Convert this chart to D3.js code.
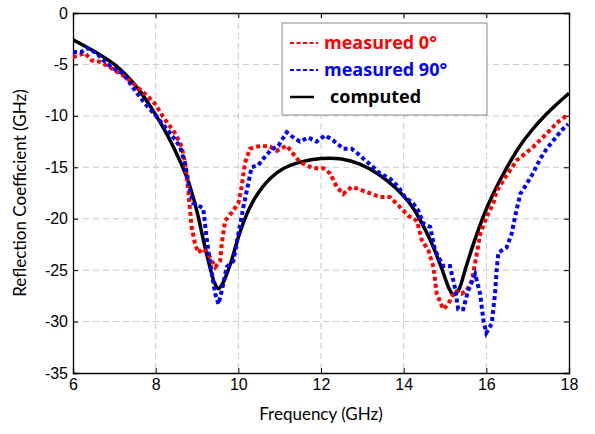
<!DOCTYPE html>
<html>
<head>
<meta charset="utf-8">
<script src="https://cdn.jsdelivr.net/npm/d3@7"></script>
<style>
  body { margin: 0; background: #fff; }
  svg { display: block; }
</style>
</head>
<body>
<div id="chart"></div>
<script>
// frequency (GHz) / reflection coefficient
var freqComputed = [6, 6.5, 7, 7.3, 7.6, 8, 8.3, 8.6, 8.8, 9.0, 9.15, 9.3, 9.42, 9.52, 9.62, 9.8, 10.0, 10.2, 10.4, 10.77, 11.1, 11.5, 12.0, 12.5, 12.94, 13.4, 13.8, 14.2, 14.6, 14.9, 15.1, 15.2, 15.32, 15.5, 15.7, 15.85, 16.05, 16.25, 16.5, 16.8, 17.1, 17.46, 17.75, 18]
var sComputed = [-2.6, -3.7, -5.0, -6.1, -7.5, -9.9, -12.0, -14.5, -16.5, -19.3, -22.0, -24.5, -26.2, -26.8, -26.3, -24.5, -21.8, -19.6, -18.0, -16.1, -15.1, -14.5, -14.15, -14.2, -14.7, -15.7, -17.0, -18.8, -21.7, -24.6, -26.8, -27.4, -27.0, -24.8, -22.3, -20.6, -18.6, -16.9, -15.0, -13.0, -11.4, -9.8, -8.7, -7.8]

var freq0 = [6.0, 6.29, 6.45, 6.65, 6.94, 7.26, 7.5, 7.78, 7.98, 8.18, 8.47, 8.63, 8.71, 8.79, 8.87, 8.95, 9.03, 9.15, 9.31, 9.44, 9.56, 9.6, 9.68, 9.84, 10.0, 10.08, 10.16, 10.28, 10.44, 10.56, 10.77, 10.93, 11.17, 11.33, 11.49, 11.81, 12.06, 12.22, 12.38, 12.54, 12.74, 12.9, 13.43, 13.67, 13.87, 14.11, 14.32, 14.44, 14.6, 14.72, 14.8, 14.96, 15.08, 15.24, 15.4, 15.52, 15.65, 15.77, 15.85, 16.0, 16.17, 16.25, 16.49, 16.74, 16.9, 17.14, 17.34, 17.54, 17.7, 17.9, 18]
var s0 = [-4.3, -3.9, -4.6, -4.75, -5.4, -6.2, -7.0, -8.0, -8.8, -10.1, -11.7, -13.0, -14.6, -17.3, -20.8, -22.4, -23.3, -22.9, -23.7, -24.7, -24.1, -22.4, -20.2, -19.4, -18.5, -16.9, -14.6, -13.2, -13.0, -12.9, -13.0, -13.4, -12.9, -13.7, -14.5, -15.1, -15.1, -15.6, -16.9, -17.6, -16.9, -17.1, -17.9, -17.9, -18.7, -19.7, -20.2, -22.1, -23.1, -24.7, -27.3, -28.8, -28.3, -27.0, -27.3, -27.0, -26.0, -23.4, -21.5, -19.9, -18.5, -17.3, -15.8, -14.3, -13.8, -13.0, -12.2, -11.4, -10.7, -10.1, -10.0]

var freq90 = [6, 6.2, 6.33, 6.57, 6.81, 7.06, 7.22, 7.46, 7.74, 8.03, 8.23, 8.43, 8.59, 8.71, 8.83, 8.91, 9.03, 9.15, 9.23, 9.31, 9.44, 9.52, 9.6, 9.72, 9.88, 10.0, 10.12, 10.24, 10.32, 10.48, 10.6, 10.77, 10.97, 11.17, 11.33, 11.49, 11.69, 11.89, 12.1, 12.3, 12.54, 12.74, 12.9, 13.43, 13.67, 13.87, 14.03, 14.23, 14.35, 14.48, 14.64, 14.76, 14.96, 15.12, 15.24, 15.32, 15.44, 15.56, 15.73, 15.85, 15.93, 16.0, 16.13, 16.21, 16.25, 16.29, 16.49, 16.61, 16.69, 16.82, 16.98, 17.14, 17.3, 17.46, 17.62, 17.82, 17.98]
var s90 = [-3.8, -3.8, -3.4, -3.9, -4.9, -5.6, -5.9, -7.3, -8.8, -10.1, -11.1, -12.1, -13.0, -14.6, -17.3, -18.5, -18.7, -19.0, -21.8, -24.1, -27.3, -28.3, -27.0, -24.7, -24.1, -21.5, -18.9, -16.6, -15.0, -14.8, -14.2, -13.4, -12.9, -11.6, -12.1, -12.5, -12.1, -12.5, -11.9, -12.4, -13.2, -13.2, -13.7, -15.6, -16.1, -16.9, -17.9, -18.5, -19.2, -20.5, -20.8, -23.1, -24.6, -24.6, -26.7, -28.8, -28.8, -27.0, -25.4, -27.3, -29.9, -31.1, -30.2, -27.3, -25.0, -23.3, -22.8, -21.5, -19.9, -17.6, -16.6, -15.5, -14.2, -13.2, -12.4, -11.4, -10.8]

var xTicks = [6, 8, 10, 12, 14, 16, 18]
var yTicks = [0, -5, -10, -15, -20, -25, -30, -35]
var legendLabels = ["measured 0°", "measured 90°", "computed"]

var W = 595, H = 434
var margin = { top: 13, left: 73, right: 26, bottom: 61 }
var width = W - margin.left - margin.right,
    height = H - margin.top - margin.bottom

var svg = d3.select("#chart")
    .append("svg")
    .attr("width", W)
    .attr("height", H)

var g = svg.append("g")
    .attr("transform", "translate(" + margin.left + "," + margin.top + ")")

var x = d3.scaleLinear().domain([6, 18]).range([0, width])
var y = d3.scaleLinear().domain([-35, 0]).range([height, 0])

// dashed grid
g.append("g").selectAll("line")
    .data(xTicks.slice(1, -1))
    .enter().append("line")
    .attr("x1", d => x(d)).attr("x2", d => x(d))
    .attr("y1", 0).attr("y2", height)
    .attr("stroke", "#c8c8c8").attr("stroke-dasharray", "6,4")
g.append("g").selectAll("line")
    .data(yTicks.slice(1, -1))
    .enter().append("line")
    .attr("y1", d => y(d)).attr("y2", d => y(d))
    .attr("x1", 0).attr("x2", width)
    .attr("stroke", "#c8c8c8").attr("stroke-dasharray", "6,4")

// axes, ticks pointing inward on all four sides
var tickFont = "'Liberation Sans', Arial, sans-serif"
var plain = d => String(d)
var axBottom = g.append("g").attr("transform", "translate(0," + height + ")")
    .call(d3.axisBottom(x).tickValues(xTicks).tickSize(-5).tickPadding(6).tickFormat(plain))
var axLeft = g.append("g")
    .call(d3.axisLeft(y).tickValues(yTicks).tickSize(-5).tickPadding(5).tickFormat(plain))
var axTop = g.append("g")
    .call(d3.axisTop(x).tickValues(xTicks).tickSize(-5).tickFormat(""))
var axRight = g.append("g").attr("transform", "translate(" + width + ",0)")
    .call(d3.axisRight(y).tickValues(yTicks).tickSize(-5).tickFormat(""))

;[axBottom, axLeft, axTop, axRight].forEach(function (a) {
    a.select(".domain").attr("stroke", "#000").attr("stroke-width", 1.3)
    a.selectAll(".tick line").attr("stroke", "#000")
    a.selectAll("text").style("font-family", tickFont).style("font-size", "16px").attr("fill", "#000")
})

// curves
g.append("clipPath").attr("id", "clip")
    .append("rect").attr("width", width).attr("height", height)

var line = d3.line()
    .x(d => x(d[0]))
    .y(d => y(d[1]))

var curves = g.append("g").attr("clip-path", "url(#clip)")

curves.append("path")
    .datum(d3.zip(freqComputed, sComputed))
    .attr("d", line.curve(d3.curveCatmullRom.alpha(0.5)))
    .attr("fill", "none").attr("stroke", "#000").attr("stroke-width", 3.5)

curves.append("path")
    .datum(d3.zip(freq0, s0))
    .attr("d", line.curve(d3.curveLinear))
    .attr("fill", "none").attr("stroke", "#ff0000").attr("stroke-width", 4)
    .attr("stroke-dasharray", "4,3")

curves.append("path")
    .datum(d3.zip(freq90, s90))
    .attr("d", line.curve(d3.curveLinear))
    .attr("fill", "none").attr("stroke", "#0000ff").attr("stroke-width", 4)
    .attr("stroke-dasharray", "4,3")

// legend
var lg = svg.append("g").attr("transform", "translate(282,23)")
lg.append("rect")
    .attr("width", 205).attr("height", 92)
    .attr("fill", "#fff").attr("stroke", "#888").attr("stroke-width", 1)

var legendColors = ["#ff0000", "#0000ff", "#000"]
legendLabels.forEach(function (lab, i) {
    var yy = 20 + i * 27
    lg.append("line")
        .attr("x1", 8).attr("x2", i < 2 ? 36 : 32)
        .attr("y1", yy).attr("y2", yy)
        .attr("stroke", legendColors[i])
        .attr("stroke-width", i < 2 ? 2 : 2.5)
        .attr("stroke-dasharray", i < 2 ? "4,2.5" : null)
    lg.append("text")
        .attr("x", i < 2 ? 42 : 48).attr("y", yy + 6)
        .attr("fill", legendColors[i])
        .style("font-family", "'Open Sans', Lato, sans-serif")
        .style("font-weight", "bold")
        .style("font-size", "18px")
        .text(lab)
})

// axis titles
svg.append("text")
    .attr("x", margin.left + width / 2).attr("y", 420)
    .attr("text-anchor", "middle")
    .style("font-family", "Lato, 'Open Sans', sans-serif")
    .style("font-size", "17px")
    .text("Frequency (GHz)")

svg.append("text")
    .attr("transform", "translate(26," + (margin.top + height / 2) + ") rotate(-90)")
    .attr("text-anchor", "middle")
    .style("font-family", "Lato, 'Open Sans', sans-serif")
    .style("font-size", "17px")
    .text("Reflection Coefficient (GHz)")
</script>
</body>
</html>
